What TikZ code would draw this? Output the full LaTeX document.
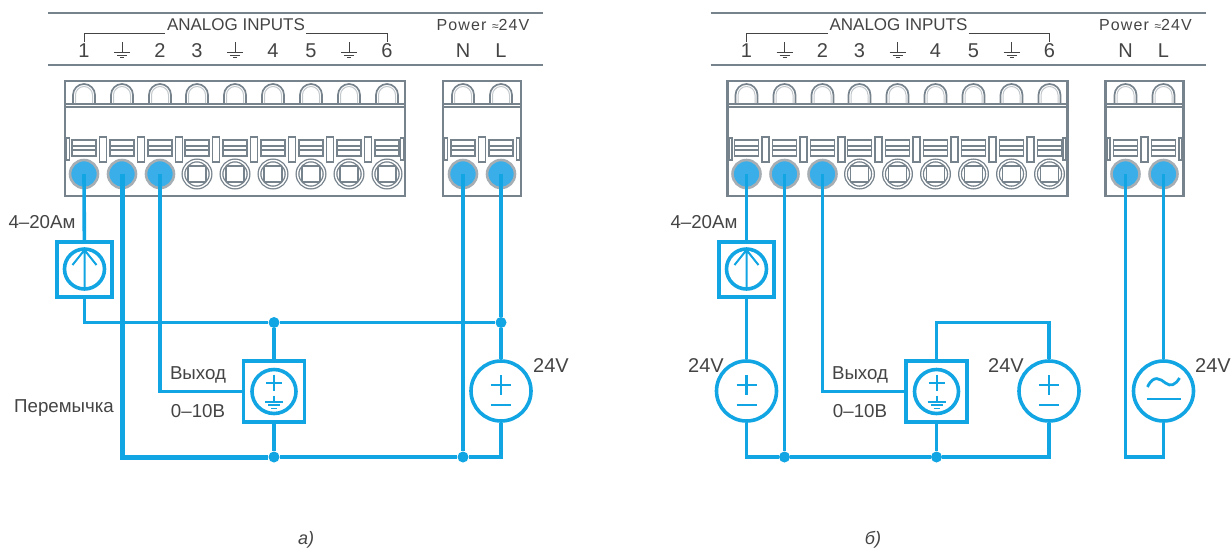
\documentclass[tikz,border=0pt]{standalone}
\usepackage{fontspec}
\setmainfont{Liberation Sans}
\usepackage{tikz}
\definecolor{wireblue}{HTML}{12A5E3}
\definecolor{pinblue}{HTML}{3AAEE8}
\definecolor{termgray}{HTML}{76828C}
\definecolor{textgray}{HTML}{444444}
\tikzset{
x=1pt, y=-1pt, % one unit is one pixel of the sheet, y runs downwards
wire/.style={draw=wireblue, line width=3.6pt},
jumper/.style={draw=wireblue, line width=5pt},
termline/.style={draw=termgray, line width=1.7pt},
pinon/.style={circle, inner sep=0pt, minimum size=28pt, fill=pinblue, draw=termgray!65, line width=2.6pt},
pinoff/.style={circle, inner sep=0pt, minimum size=27pt, fill=white, draw=termgray, line width=1.3pt, double=white, double distance=1.4pt,
  path picture={\draw[termline] ([shift={(-9,-8)}]path picture bounding box.center) rectangle ([shift={(9,8)}]path picture bounding box.center);}},
junction/.style={circle, inner sep=0pt, minimum size=11pt, fill=wireblue},
sourcebox/.style={rectangle, inner sep=0pt, draw=wireblue, line width=3.6pt, fill=white},
sourcering/.style={circle, inner sep=0pt, draw=wireblue, line width=3.6pt, fill=white},
label/.style={text=textgray, inner sep=0pt, font=\fontsize{18.7}{20}\selectfont},
bigvolt/.style={label, font=\fontsize{20}{22}\selectfont},
pics/cell/.style={code={
  \draw[termline] (-11,103) -- (-11,95) arc (180:0:11pt) -- (11,103);
  \draw[draw=termgray!45, line width=1pt] (-8.5,103) -- (-8.5,95) arc (180:0:8.5pt) -- (8.5,103);
  \draw[termline] (-12,140) rectangle (12,156);
  \draw[termline] (-12,146) -- (12,146) (-12,150) -- (12,150);
}},
pics/earth/.style={code={
  \draw[draw=textgray, line width=1pt] (0,-9) -- (0,1) (-8,1) -- (8,1) (-5,4) -- (5,4) (-2,6.5) -- (2,6.5);
}},
pics/plusminus/.style={code={
  \draw[wire, line width=2.6pt] (-10,-6) -- (10,-6) (0,-16) -- (0,4) (-10,14) -- (10,14);
}},
pics/plusearth/.style={code={
  \draw[wire, line width=2pt] (-8,-9) -- (8,-9) (0,-17) -- (0,-1) (0,4) -- (0,10) (-9,10) -- (9,10);
  \draw[wire, line width=1.5pt] (-6,13.5) -- (6,13.5) (-3,17) -- (3,17);
}},
pics/uparrow/.style={code={
  \draw[wire, line width=2pt] (0,20) -- (0,-19) (-12,-4) -- (0,-19) -- (12,-4);
}},
pics/acwave/.style={code={
  \draw[wire, line width=2.8pt] (-16,-4) .. controls (-10,-17) and (-3,-12) .. (2,-8) .. controls (7,-4) and (12,-6) .. (16,-13);
  \draw[wire, line width=2.8pt] (-17,8) -- (17,8);
}},
}

\begin{document}
\begin{tikzpicture}
\useasboundingbox (0,0) rectangle (1231,550);

% the two terminal panels
\foreach \pfx/\off in {a/0,b/662.5}{
\begin{scope}[xshift=\off]
\draw[termline, line width=2pt] (48,13) -- (543,13) (48,65) -- (543,65);
\draw[termline, line width=2.8pt] (65,81) rectangle (405,196) (443,81) rectangle (521,196);
\draw[termline] (65,104) -- (405,104) (65,107) -- (405,107) (443,104) -- (521,104) (443,107) -- (521,107);
\draw[draw=textgray, line width=1pt] (84,42) -- (84,33) -- (165,33) (306,33) -- (387,33) -- (387,42);
\node[label, font=\fontsize{17}{19}\selectfont] (\pfx title) at (236,25) {ANALOG INPUTS};
\node[label, font=\fontsize{16}{17}\selectfont\addfontfeatures{LetterSpace=7}] (\pfx power) at (483,25) {Power {\fontsize{12}{12}\selectfont≈}24V};
\foreach \x in {103,141,179,216,254,292,330,368,482}
  \draw[termline, fill=white] (\x-3.5,137) rectangle (\x+3.5,162);
\foreach \x in {68,402,446,518}
  \draw[termline, fill=white] (\x-1.5,138) rectangle (\x+1.5,160);
\foreach \i/\x/\st/\txt in {1/84/pinon/1,2/122/pinon/,3/160/pinon/2,4/197/pinoff/3,5/235/pinoff/,6/273/pinoff/4,7/311/pinoff/5,8/349/pinoff/,9/387/pinoff/6,N/463/pinon/N,L/501/pinon/L}{
  \pic at (\x,0) {cell};
  \node[\st] (\pfx\i) at (\x,174) {};
  \node[label, font=\fontsize{20}{22}\selectfont] (\pfx\i txt) at (\x,51) {\txt};
}
\foreach \x in {122,235,349}
  \pic at (\x,51) {earth};
\end{scope}
}

% scheme a
\node[sourcebox, minimum size=55pt] (aloop) at (84.5,269.5) {};
\node[sourcering, minimum size=40pt] (aloopring) at (84.5,269) {};
\pic at (84.5,269) {uparrow};
\node[sourcebox, minimum size=61pt] (aout) at (274,391.5) {};
\node[sourcering, minimum size=44pt] (aoutring) at (274,391.5) {};
\pic at (274,391.5) {plusearth};
\node[sourcering, minimum size=60pt] (asupply) at (501,391) {};
\pic at (501,391) {plusminus};
\node[junction] (j1) at (274,322.5) {};
\node[junction] (j2) at (501,322.5) {};
\node[junction] (j3) at (274,457) {};
\node[junction] (j4) at (463,457) {};
\draw[wire] (a1.center) -- (aloop);
\draw[wire] (aloop) |- (j1);
\draw[wire] (j1) -- (j2);
\draw[wire] (j1) -- (aout);
\draw[wire] (aout) -- (j3);
\draw[wire] (a3.center) |- (aout);
\draw[wire] (aN.center) -- (j4);
\draw[wire] (aL.center) -- (j2);
\draw[wire] (j2) -- (asupply);
\draw[wire] (asupply) |- (j4);
\draw[wire] (j4) -- (j3);
\draw[jumper] (a2.center) |- (j3);

% scheme b
\node[sourcebox, minimum size=55pt] (bloop) at (746.5,269.5) {};
\node[sourcering, minimum size=40pt] (bloopring) at (746.5,269) {};
\pic at (746.5,269) {uparrow};
\node[sourcering, minimum size=60pt] (bsupply) at (746.5,391) {};
\pic at (746.5,391) {plusminus};
\node[sourcebox, minimum size=61pt] (bout) at (936.5,391.5) {};
\node[sourcering, minimum size=44pt] (boutring) at (936.5,391.5) {};
\pic at (936.5,391.5) {plusearth};
\node[sourcering, minimum size=60pt] (bdc) at (1049,391) {};
\pic at (1049,391) {plusminus};
\node[sourcering, minimum size=60pt] (bac) at (1163.5,391) {};
\pic at (1163.5,391) {acwave};
\node[junction] (j5) at (784.5,457) {};
\node[junction] (j6) at (936.5,457) {};
\coordinate (c1) at (936.5,322.5);
\draw[wire] (b1.center) -- (bloop);
\draw[wire] (bloop) -- (bsupply);
\draw[wire] (bsupply) |- (j5);
\draw[wire] (b2.center) -- (j5);
\draw[wire] (j5) -- (j6);
\draw[wire] (b3.center) |- (bout);
\draw[wire] (bout) -- (j6);
\draw[wire] (bout) -- (c1) -| (bdc);
\draw[wire] (bdc) |- (j6);
\draw[wire] (bL.center) -- (bac);
\draw[wire] (bac) |- (bN |- j6) -- (bN.center);

% labels
\node[label] (lbl1) at (42,222) {4--20Ам};
\node[label] (lbl2) at (198,375) {Выход};
\node[label] (lbl3) at (198,411) {0--10В};
\node[label] (lbl4) at (64,408) {Перемычка};
\node[bigvolt] (lbl5) at (551,366) {24V};
\node[label] (lbl6) at (704,222) {4--20Ам};
\node[label] (lbl7) at (860,375) {Выход};
\node[label] (lbl8) at (860,411) {0--10В};
\node[bigvolt] (lbl9) at (706,366) {24V};
\node[bigvolt] (lbl10) at (1006,366) {24V};
\node[bigvolt] (lbl11) at (1213,366) {24V};
\node[label, font=\itshape\fontsize{18}{20}\selectfont] (capa) at (306,540) {а)};
\node[label, font=\itshape\fontsize{18}{20}\selectfont] (capb) at (873,540) {б)};
\end{tikzpicture}
\end{document}
